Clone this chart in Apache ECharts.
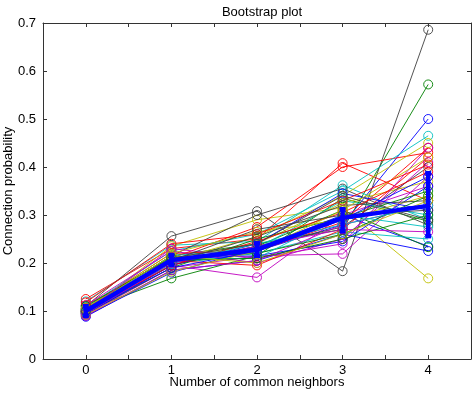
<!DOCTYPE html>
<html>
<head>
<meta charset="utf-8">
<script src="https://cdn.jsdelivr.net/npm/echarts@6/dist/echarts.min.js"></script>
<style>
  html, body { margin: 0; padding: 0; background: #fff; }
  #chart { width: 476px; height: 398px; }
</style>
</head>
<body>
<div id="chart"></div>
<script>
// x positions (number of common neighbors)
const xValues = [0, 1, 2, 3, 4]

// bootstrap samples, one row per resample
const samples = [
  [0.095, 0.200, 0.225, 0.280, 0.500],
  [0.105, 0.215, 0.240, 0.270, 0.572],
  [0.125, 0.230, 0.250, 0.408, 0.330],
  [0.120, 0.237, 0.245, 0.362, 0.290],
  [0.098, 0.195, 0.170, 0.300, 0.360],
  [0.100, 0.235, 0.290, 0.315, 0.168],
  [0.110, 0.256, 0.308, 0.183, 0.686],
  [0.088, 0.185, 0.205, 0.260, 0.225],
  [0.102, 0.168, 0.215, 0.335, 0.287],
  [0.112, 0.210, 0.275, 0.400, 0.430],
  [0.108, 0.225, 0.260, 0.350, 0.465],
  [0.092, 0.190, 0.215, 0.219, 0.380],
  [0.096, 0.205, 0.255, 0.340, 0.450],
  [0.104, 0.215, 0.300, 0.355, 0.279],
  [0.090, 0.180, 0.230, 0.300, 0.235],
  [0.100, 0.200, 0.235, 0.310, 0.233],
  [0.106, 0.220, 0.225, 0.285, 0.440],
  [0.094, 0.198, 0.220, 0.265, 0.250],
  [0.112, 0.225, 0.200, 0.250, 0.410],
  [0.098, 0.210, 0.240, 0.325, 0.370],
  [0.097, 0.195, 0.235, 0.275, 0.400],
  [0.100, 0.210, 0.215, 0.245, 0.360],
  [0.095, 0.190, 0.250, 0.295, 0.350],
  [0.100, 0.205, 0.195, 0.270, 0.420],
  [0.102, 0.215, 0.230, 0.330, 0.300],
  [0.090, 0.185, 0.205, 0.280, 0.320],
  [0.106, 0.220, 0.265, 0.290, 0.340],
  [0.099, 0.200, 0.255, 0.320, 0.330],
  [0.093, 0.195, 0.240, 0.345, 0.310],
  [0.110, 0.212, 0.220, 0.260, 0.340],
  [0.099, 0.195, 0.245, 0.305, 0.390],
  [0.104, 0.208, 0.210, 0.300, 0.275],
  [0.101, 0.230, 0.210, 0.240, 0.440],
  [0.092, 0.182, 0.225, 0.310, 0.420],
  [0.103, 0.205, 0.270, 0.300, 0.310],
  [0.098, 0.190, 0.225, 0.290, 0.380],
  [0.096, 0.205, 0.210, 0.250, 0.300],
  [0.118, 0.240, 0.260, 0.330, 0.405],
  [0.097, 0.200, 0.240, 0.280, 0.320],
  [0.094, 0.200, 0.235, 0.270, 0.265],
  [0.104, 0.215, 0.200, 0.260, 0.330],
  [0.100, 0.210, 0.240, 0.340, 0.290],
]

// mean curve and its error bar ends
const meanValues = [0.100, 0.206, 0.228, 0.294, 0.319]
const errLow = [0.090, 0.196, 0.215, 0.266, 0.256]
const errHigh = [0.110, 0.216, 0.241, 0.312, 0.387]

// matlab default line colour cycle
const colorCycle = ['#0000ff', '#008000', '#ff0000', '#00bfbf', '#bf00bf', '#bfbf00', '#404040']

const font = 'Liberation Sans, Arial, sans-serif'

const bootSeries = samples.map((row, i) => {
  const c = colorCycle[i % colorCycle.length]
  return {
    type: 'line',
    symbol: 'circle',
    symbolSize: 9,
    showSymbol: true,
    lineStyle: { width: 0.9, color: c },
    itemStyle: { color: 'rgba(0,0,0,0)', borderColor: c, borderWidth: 0.9 },
    data: row.map((v, k) => [xValues[k], v]),
    z: 2,
  }
})

// thick blue mean line
const meanSeries = {
  type: 'line',
  symbol: 'none',
  lineStyle: { width: 4.5, color: '#0000ff' },
  data: meanValues.map((v, k) => [xValues[k], v]),
  z: 5,
}

// error bars drawn with the axis scale
const errSeries = {
  type: 'custom',
  z: 6,
  data: xValues.map((x, k) => [x, errLow[k], errHigh[k]]),
  renderItem: function (params, api) {
    const lo = api.coord([api.value(0), api.value(1)])
    const hi = api.coord([api.value(0), api.value(2)])
    const cap = 3
    const style = { stroke: '#0000ff', lineWidth: 4.5 }
    return {
      type: 'group',
      children: [
        { type: 'line', shape: { x1: lo[0], y1: lo[1], x2: hi[0], y2: hi[1] }, style: style },
        { type: 'line', shape: { x1: lo[0] - cap, y1: lo[1], x2: lo[0] + cap, y2: lo[1] }, style: style },
        { type: 'line', shape: { x1: hi[0] - cap, y1: hi[1], x2: hi[0] + cap, y2: hi[1] }, style: style },
      ],
    }
  },
}

const axisLine = { show: true, onZero: false, lineStyle: { color: '#333', width: 1 } }
const tick = { show: true, inside: true, length: 4, lineStyle: { color: '#333' } }

const option = {
  animation: false,
  backgroundColor: '#fff',
  title: {
    text: 'Bootstrap plot',
    left: 257,
    textAlign: 'center',
    top: 1,
    textStyle: { fontFamily: font, fontSize: 13, fontWeight: 'normal', color: '#000' },
  },
  grid: { left: 43, right: 5, top: 23, bottom: 39, outerBoundsMode: 'none', containLabel: false },
  xAxis: [
    {
      type: 'value',
      min: -0.5,
      max: 4.5,
      interval: 0.5,
      name: 'Number of common neighbors',
      nameLocation: 'middle',
      nameGap: 17,
      nameMoveOverlap: false,
      nameTextStyle: { fontFamily: font, fontSize: 13, color: '#000' },
      axisLine: axisLine,
      axisTick: tick,
      axisLabel: {
        fontFamily: font,
        fontSize: 13,
        color: '#000',
        margin: 5,
        formatter: (v) => (Number.isInteger(v) ? String(v) : ''),
      },
      splitLine: { show: false },
    },
    {
      type: 'value',
      position: 'top',
      min: -0.5,
      max: 4.5,
      interval: 0.5,
      axisLine: axisLine,
      axisTick: tick,
      axisLabel: { show: false },
      splitLine: { show: false },
    },
  ],
  yAxis: [
    {
      type: 'value',
      min: 0,
      max: 0.7,
      interval: 0.1,
      name: 'Connection probability',
      nameLocation: 'middle',
      nameGap: 28,
      nameMoveOverlap: false,
      nameTextStyle: { fontFamily: font, fontSize: 13, color: '#000' },
      axisLine: axisLine,
      axisTick: tick,
      axisLabel: { fontFamily: font, fontSize: 13, color: '#000', margin: 7 },
      splitLine: { show: false },
    },
    {
      type: 'value',
      position: 'right',
      min: 0,
      max: 0.7,
      interval: 0.1,
      axisLine: axisLine,
      axisTick: tick,
      axisLabel: { show: false },
      splitLine: { show: false },
    },
  ],
  series: [...bootSeries, meanSeries, errSeries],
}

echarts.init(document.getElementById('chart')).setOption(option)
</script>
</body>
</html>
